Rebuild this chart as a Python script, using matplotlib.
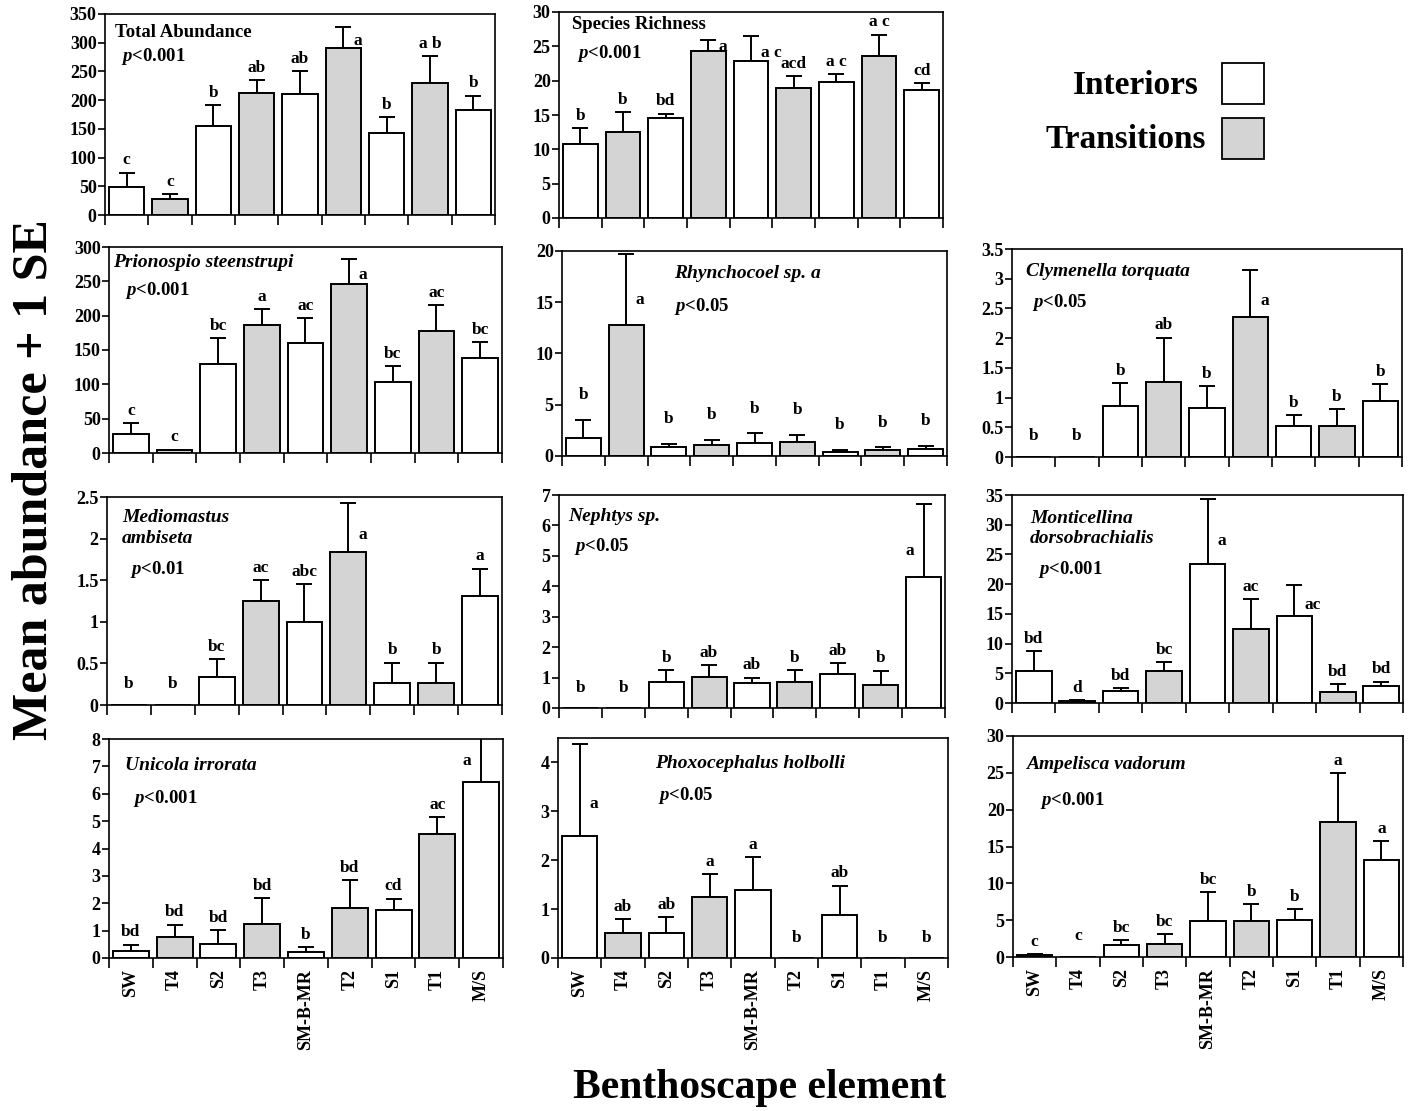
import matplotlib
matplotlib.use('Agg')
import matplotlib.pyplot as plt
from matplotlib.patches import Rectangle
from matplotlib.ticker import MultipleLocator, FormatStrFormatter, FixedLocator

plt.rcParams['font.family'] = 'Liberation Serif'
plt.rcParams['font.weight'] = 'bold'
plt.rcParams['mathtext.fontset'] = 'custom'
plt.rcParams['mathtext.it'] = 'Liberation Serif:italic:bold'
plt.rcParams['mathtext.rm'] = 'Liberation Serif:bold'

# benthoscape elements, in plotting order
sites = ['SW', 'T4', 'S2', 'T3', 'SM-B-MR', 'T2', 'S1', 'T1', 'M/S']
is_transition = [False, True, False, True, False, True, False, True, False]

# mean and mean + 1 SE for each panel
total_mean = [49, 28, 155, 213, 210, 290, 143, 229, 182]
total_top = [74, 37, 191, 235, 251, 328, 170, 277, 208]
total_lab = ['c', 'c', 'b', 'ab', 'ab', 'a', 'b', 'a b', 'b']

rich_mean = [10.8, 12.5, 14.6, 24.3, 22.8, 19.0, 19.8, 23.6, 18.7]
rich_top = [13.1, 15.4, 15.2, 25.9, 26.5, 20.7, 21.0, 26.7, 19.6]
rich_lab = ['b', 'b', 'bd', 'a', 'a c', 'acd', 'a c', 'a c', 'cd']

prio_mean = [28, 4, 130, 187, 160, 246, 103, 178, 139]
prio_top = [44, 5, 167, 210, 197, 283, 127, 215, 161]
prio_lab = ['c', 'c', 'bc', 'a', 'ac', 'a', 'bc', 'ac', 'bc']

rhyn_mean = [1.8, 12.8, 0.9, 1.07, 1.23, 1.4, 0.42, 0.55, 0.71]
rhyn_top = [3.5, 19.7, 1.2, 1.6, 2.2, 2.05, 0.58, 0.84, 0.97]
rhyn_lab = ['b', 'a', 'b', 'b', 'b', 'b', 'b', 'b', 'b']

clym_mean = [0, 0, 0.86, 1.27, 0.82, 2.35, 0.53, 0.53, 0.94]
clym_top = [0, 0, 1.24, 2.01, 1.19, 3.15, 0.71, 0.80, 1.23]
clym_lab = ['b', 'b', 'b', 'ab', 'b', 'a', 'b', 'b', 'b']

medi_mean = [0, 0, 0.34, 1.25, 1.00, 1.84, 0.27, 0.27, 1.31]
medi_top = [0, 0, 0.55, 1.50, 1.45, 2.43, 0.51, 0.51, 1.64]
medi_lab = ['b', 'b', 'bc', 'ac', 'abc', 'a', 'b', 'b', 'a']

neph_mean = [0, 0, 0.85, 1.02, 0.82, 0.85, 1.12, 0.74, 4.32]
neph_top = [0, 0, 1.24, 1.42, 1.0, 1.24, 1.47, 1.23, 6.71]
neph_lab = ['b', 'b', 'b', 'ab', 'ab', 'b', 'ab', 'b', 'a']

mont_mean = [5.4, 0.34, 1.96, 5.43, 23.4, 12.4, 14.6, 1.85, 2.8]
mont_top = [8.8, 0.56, 2.58, 6.9, 34.4, 17.5, 19.8, 3.2, 3.6]
mont_lab = ['bd', 'd', 'bd', 'bc', 'a', 'ac', 'ac', 'bd', 'bd']

unic_mean = [0.26, 0.76, 0.51, 1.25, 0.22, 1.84, 1.77, 4.54, 6.43]
unic_top = [0.49, 1.22, 1.01, 2.2, 0.41, 2.84, 2.17, 5.15, 8.6]
unic_lab = ['bd', 'bd', 'bd', 'bd', 'b', 'bd', 'cd', 'ac', 'a']

phox_mean = [2.50, 0.51, 0.51, 1.25, 1.40, 0, 0.88, 0, 0]
phox_top = [4.38, 0.79, 0.84, 1.72, 2.07, 0, 1.48, 0, 0]
phox_lab = ['a', 'ab', 'ab', 'a', 'a', 'b', 'ab', 'b', 'b']

ampe_mean = [0.32, 0, 1.67, 1.81, 4.83, 4.83, 4.97, 18.26, 13.2]
ampe_top = [0.45, 0, 2.35, 3.1, 8.8, 7.2, 6.55, 25.0, 15.7]
ampe_lab = ['c', 'c', 'bc', 'bc', 'bc', 'b', 'b', 'a', 'a']

W, H = 1409, 1111
fig = plt.figure(figsize=(W / 100, H / 100), dpi=100)

GREY = '#d4d4d4'


def px_axes(l, t, r, b):
    return fig.add_axes([l / W, 1 - b / H, (r - l) / W, (b - t) / H])


# panel setup: data, y range, titles, placement in pixels
panels = [
    dict(mean=total_mean, top=total_top, lab=total_lab, ymax=350, step=50,
         title='Total Abundance', ital=False, p='<0.001', box=(105, 14, 495, 215),
         tpos=(0.026, 0.91), ppos=(0.04, 0.79), side={5: 'r'}),
    dict(mean=rich_mean, top=rich_top, lab=rich_lab, ymax=30, step=5,
         title='Species Richness', ital=False, p='<0.001', box=(559, 12, 943, 218),
         tpos=(0.034, 0.937), ppos=(0.047, 0.80), side={3: 'r', 4: 'r'}),
    dict(mean=prio_mean, top=prio_top, lab=prio_lab, ymax=300, step=50,
         title='Prionospio steenstrupi', ital=True, p='<0.001', box=(109, 247, 502, 453),
         tpos=(0.01, 0.927), ppos=(0.04, 0.79), side={5: 'r'}),
    dict(mean=rhyn_mean, top=rhyn_top, lab=rhyn_lab, ymax=20, step=5,
         title='Rhynchocoel sp. a', ital=True, p='<0.05', box=(562, 251, 947, 456),
         tpos=(0.29, 0.89), ppos=(0.29, 0.73), side={1: 'r'}, pad=12),
    dict(mean=clym_mean, top=clym_top, lab=clym_lab, ymax=3.5, step=0.5,
         title='Clymenella torquata', ital=True, p='<0.05', box=(1012, 249, 1402, 457),
         tpos=(0.036, 0.89), ppos=(0.05, 0.745), side={5: 'r'}),
    dict(mean=medi_mean, top=medi_top, lab=medi_lab, ymax=2.5, step=0.5,
         title='Mediomastus\nambiseta', ital=True, p='<0.01', box=(107, 497, 502, 705),
         tpos=(0.038, 0.94), ppos=(0.058, 0.65), side={5: 'r'}),
    dict(mean=neph_mean, top=neph_top, lab=neph_lab, ymax=7, step=1,
         title='Nephtys sp.', ital=True, p='<0.05', box=(559, 495, 945, 708),
         tpos=(0.023, 0.90), ppos=(0.04, 0.76), side={8: 'l'}),
    dict(mean=mont_mean, top=mont_top, lab=mont_lab, ymax=35, step=5,
         title='Monticellina\ndorsobrachialis', ital=True, p='<0.001', box=(1012, 495, 1403, 703),
         tpos=(0.046, 0.93), ppos=(0.066, 0.64), side={4: 'r', 6: 'r'}),
    dict(mean=unic_mean, top=unic_top, lab=unic_lab, ymax=8, step=1,
         title='Unicola irrorata', ital=True, p='<0.001', box=(109, 739, 503, 958),
         tpos=(0.04, 0.88), ppos=(0.06, 0.73), side={8: 'l'}),
    dict(mean=phox_mean, top=phox_top, lab=phox_lab, ymax=4.5, step=1,
         title='Phoxocephalus holbolli', ital=True, p='<0.05', box=(558, 738, 948, 958),
         tpos=(0.25, 0.886), ppos=(0.256, 0.74), side={0: 'r'}),
    dict(mean=ampe_mean, top=ampe_top, lab=ampe_lab, ymax=30, step=5,
         title='Ampelisca vadorum', ital=True, p='<0.001', box=(1013, 736, 1403, 957),
         tpos=(0.033, 0.87), ppos=(0.07, 0.71), side={}),
]

for k, pan in enumerate(panels):
    ax = px_axes(*pan['box'])
    n = len(sites)
    xs = [i + 0.5 for i in range(n)]
    colors = [GREY if t else 'white' for t in is_transition]
    ax.bar(xs, pan['mean'], width=0.82, color=colors, edgecolor='black',
           linewidth=1.4, zorder=2)

    # upper error bars only (skip empty bars)
    ex = [x for x, m, t in zip(xs, pan['mean'], pan['top']) if t > m]
    em = [m for m, t in zip(pan['mean'], pan['top']) if t > m]
    eu = [t - m for m, t in zip(pan['mean'], pan['top']) if t > m]
    ax.errorbar(ex, em, yerr=[[0] * len(eu), eu], fmt='none', ecolor='black',
                elinewidth=1.4, capsize=6, capthick=1.4, zorder=1)

    # significance letters
    pad = pan.get('pad', 3)
    for i, (x, m, t, lab) in enumerate(zip(xs, pan['mean'], pan['top'], pan['lab'])):
        s = pan['side'].get(i, 'c')
        if s == 'c':
            top = max(m, t)
            off = pad if top > 0 else 9
            ax.annotate(lab, (x, top), xytext=(0, off), textcoords='offset points',
                        ha='center', va='bottom', fontsize=12.5)
        else:
            y = m + 0.35 * (t - m)
            dx = 7 if s == 'r' else -7
            ax.annotate(lab, (x, y), xytext=(dx, 0), textcoords='offset points',
                        ha='left' if s == 'r' else 'right', va='center', fontsize=12.5)

    ax.set_xlim(0, n)
    ax.set_ylim(0, pan['ymax'])
    ax.yaxis.set_major_locator(MultipleLocator(pan['step']))
    ax.yaxis.set_major_formatter(FormatStrFormatter('%g'))
    ax.tick_params(axis='y', direction='out', length=5, width=1.2, labelsize=13, pad=1)
    ax.xaxis.set_major_locator(FixedLocator(range(n + 1)))
    ax.xaxis.set_minor_locator(FixedLocator(xs))
    ax.tick_params(axis='x', which='major', direction='out', length=7, width=1.2)
    ax.tick_params(axis='x', which='minor', length=0, labelsize=13, pad=8)
    ax.set_xticklabels([], minor=False)
    if k >= 8:
        ax.set_xticklabels(sites, minor=True, rotation=90)
    else:
        ax.set_xticklabels([], minor=True)
    for sp in ax.spines.values():
        sp.set_linewidth(1.2)

    ax.text(*pan['tpos'], pan['title'], transform=ax.transAxes,
            fontsize=14 if pan['ital'] else 13.5, style='italic' if pan['ital'] else 'normal',
            ha='left', va='top' if '\n' in pan['title'] else 'center', linespacing=1.3)
    ax.text(*pan['ppos'], '$p$' + pan['p'], transform=ax.transAxes,
            fontsize=13.5, ha='left', va='center')

# legend in the empty top-right cell
fig.text(1199 / W, 1 - 85 / H, 'Interiors', fontsize=24, ha='right', va='center')
fig.text(1206 / W, 1 - 139 / H, 'Transitions', fontsize=24, ha='right', va='center')
fig.patches.append(Rectangle((1222 / W, 1 - 104 / H), 42 / W, 41 / H, facecolor='white',
                             edgecolor='black', linewidth=1.3, transform=fig.transFigure))
fig.patches.append(Rectangle((1222 / W, 1 - 159 / H), 42 / W, 41 / H, facecolor=GREY,
                             edgecolor='black', linewidth=1.3, transform=fig.transFigure))

fig.text(35 / W, 1 - 480 / H, 'Mean abundance + 1 SE', rotation=90, fontsize=36,
         ha='center', va='center')
fig.text(760 / W, 1 - 1088 / H, 'Benthoscape element', fontsize=30,
         ha='center', va='center')

fig.savefig('out.png', dpi=100)
